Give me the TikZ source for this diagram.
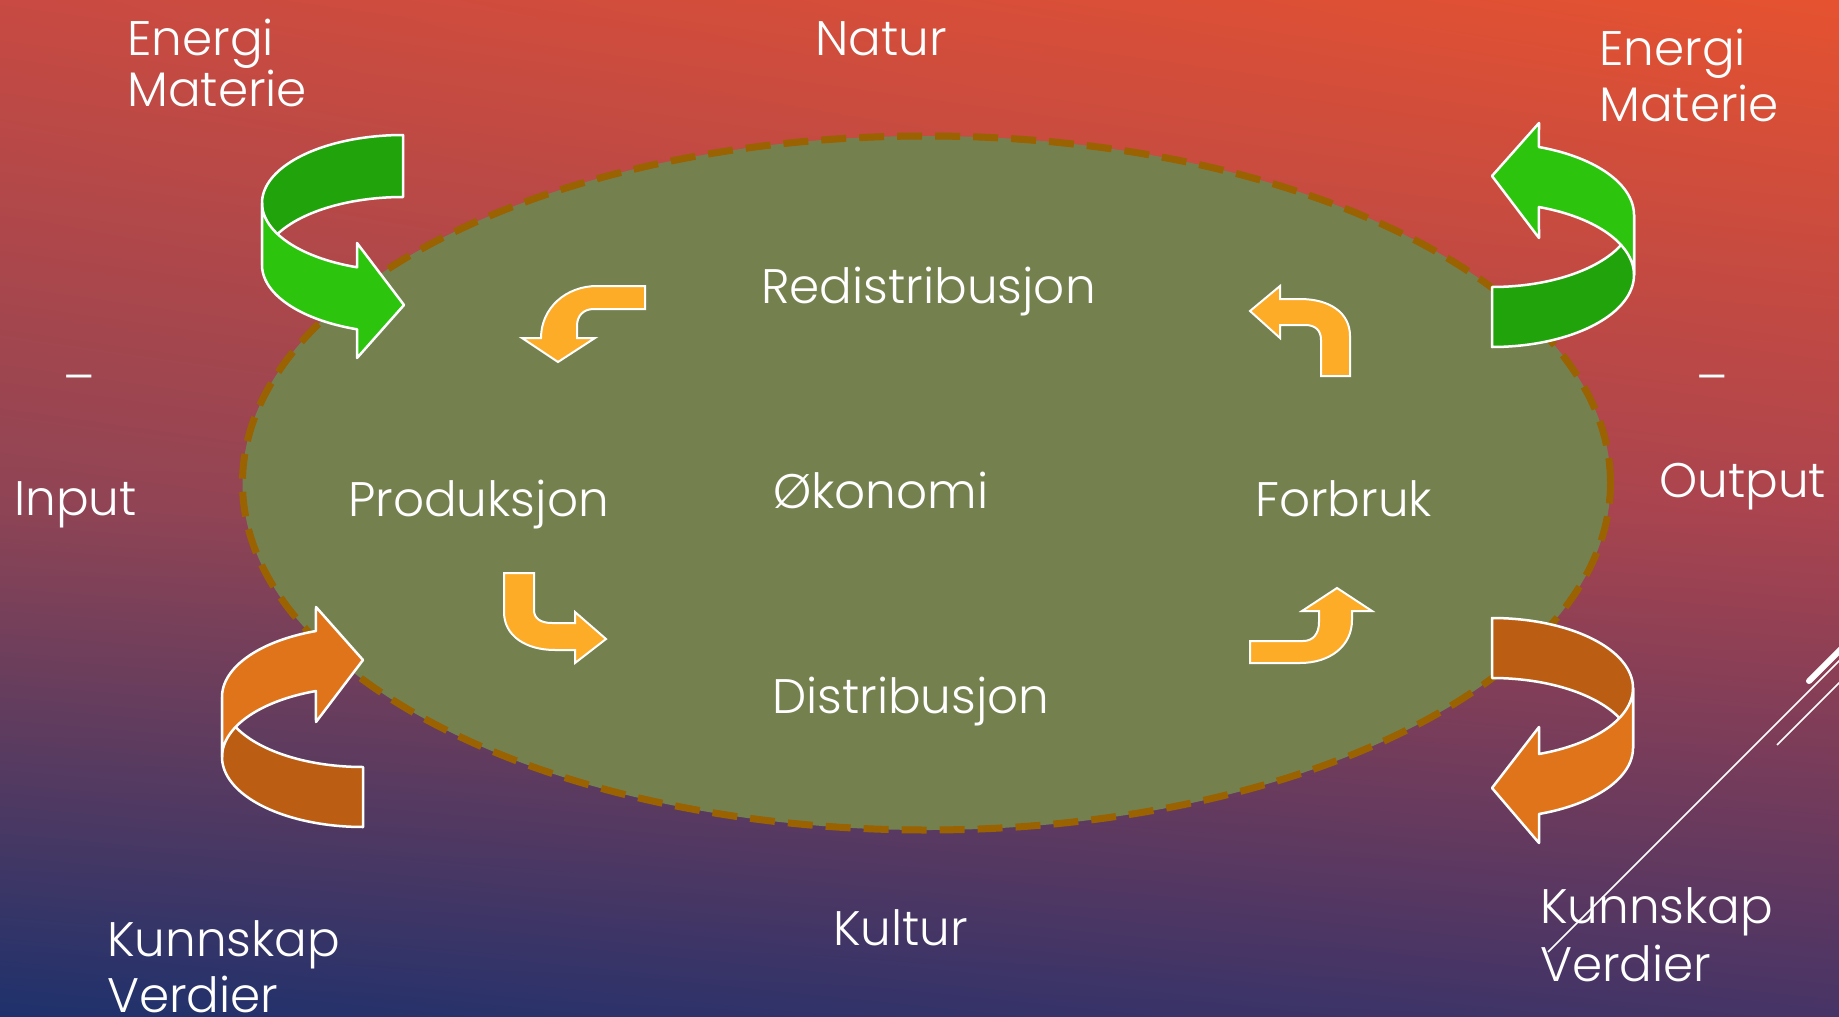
\documentclass[tikz,border=0pt]{standalone}
\usetikzlibrary{shadings,shapes.geometric}
\usepackage{fontspec}
\IfFontExistsTF{Poppins Light}{\setmainfont{Poppins Light}}{\setmainfont{Poppins}}
\definecolor{bgA}{RGB}{200,74,66}
\definecolor{bgB}{RGB}{229,82,48}
\definecolor{bgC}{RGB}{142,68,85}
\definecolor{bgD}{RGB}{172,68,78}
\definecolor{bgE}{RGB}{30,49,108}
\definecolor{bgF}{RGB}{70,52,102}
\definecolor{ellfill}{RGB}{116,129,79}
\definecolor{elldash}{RGB}{154,98,0}
\definecolor{gdark}{RGB}{33,163,11}
\definecolor{gbright}{RGB}{44,196,12}
\definecolor{odark}{RGB}{187,94,20}
\definecolor{obright}{RGB}{223,116,26}
\definecolor{sarr}{RGB}{253,172,40}
\begin{document}
\begin{tikzpicture}[x=1pt,y=-1pt,
  lbl/.style={text=white,font=\fontsize{48.5}{58}\selectfont,inner sep=0pt,anchor=base west},
  bigarr/.style={draw=white,line width=2.5pt,line join=round},
  smarr/.style={draw=white,line width=2pt,fill=sarr,line join=miter},
  deco/.style={draw=white,line width=1.5pt}]
\useasboundingbox (0,0) rectangle (1839,1017);
% background
\shade[upper left=bgA,upper right=bgB,lower left=bgC,lower right=bgD] (0,0) rectangle (1839,508.5);
\shade[upper left=bgC,upper right=bgD,lower left=bgE,lower right=bgF] (0,508) rectangle (1839,1017);
% ellipse
\node[draw=elldash,fill=ellfill,line width=7pt,dash pattern=on 25pt off 13pt,ellipse,minimum width=1368pt,minimum height=694pt,inner sep=0pt] (eco) at (926.5,483) {};
% small arrows
\filldraw[smarr] (645,286) -- (597,286) .. controls (566,286) and (541,308) .. (541,338) -- (522,338) -- (558,362) -- (595,338) -- (577,338) -- (577,326) .. controls (577,316) and (583,309) .. (594,309) -- (645,309) -- cycle;
\filldraw[smarr] (504,573) -- (534,573) -- (534,610) .. controls (534,618) and (540,623) .. (552,623) -- (575,623) -- (575,612) -- (606,639) -- (575,663) -- (575,650) -- (555,650) .. controls (526,650) and (504,636) .. (504,612) -- cycle;
\filldraw[smarr] (1250,641) -- (1303,641) .. controls (1313,641) and (1319,634) .. (1319,622) -- (1319,611) -- (1302,611) -- (1337,588) -- (1372,611) -- (1352,611) -- (1352,620) .. controls (1352,646) and (1330,663) .. (1300,663) -- (1250,663) -- cycle;
\filldraw[smarr] (1321,376) -- (1350,376) -- (1350,336) .. controls (1350,313) and (1330,299) .. (1300,299) -- (1280,299) -- (1280,286) -- (1250,311) -- (1280,338) -- (1280,325) -- (1305,325) .. controls (1315,325) and (1321,330) .. (1321,340) -- cycle;
% big arrows: top left (green)
\filldraw[bigarr,fill=gdark] plot[domain=270:180,samples=40] ({403+141*cos(\x)},{203+68*sin(\x)}) -- plot[domain=180:270,samples=40] ({403+141*cos(\x)},{265+68*sin(\x)}) -- cycle;
\filldraw[bigarr,fill=gbright] plot[domain=180:109,samples=40] ({403+141*cos(\x)},{203+68*sin(\x)}) -- (357,243) -- (404,305) -- (357,358) -- plot[domain=109:180,samples=40] ({403+141*cos(\x)},{265+68*sin(\x)}) -- cycle;
% top right (green)
\filldraw[bigarr,fill=gdark] plot[domain=90:0,samples=40] ({1492+142*cos(\x)},{215+72*sin(\x)}) -- plot[domain=0:90,samples=40] ({1492+142*cos(\x)},{275+72*sin(\x)}) -- cycle;
\filldraw[bigarr,fill=gbright] plot[domain=-70.7:0,samples=40] ({1492+142*cos(\x)},{215+72*sin(\x)}) -- plot[domain=0:-70.7,samples=40] ({1492+142*cos(\x)},{275+72*sin(\x)}) -- (1539,238) -- (1492,176) -- (1539,123) -- cycle;
% bottom left (orange)
\filldraw[bigarr,fill=odark] plot[domain=90:180,samples=40] ({363+141*cos(\x)},{697+70*sin(\x)}) -- plot[domain=180:90,samples=40] ({363+141*cos(\x)},{757+70*sin(\x)}) -- cycle;
\filldraw[bigarr,fill=obright] plot[domain=250.5:180,samples=40] ({363+141*cos(\x)},{697+70*sin(\x)}) -- plot[domain=180:250.5,samples=40] ({363+141*cos(\x)},{757+70*sin(\x)}) -- (316,722) -- (363,660) -- (316,607) -- cycle;
% bottom right (orange)
\filldraw[bigarr,fill=odark] plot[domain=270:360,samples=40] ({1492+141*cos(\x)},{688+70*sin(\x)}) -- plot[domain=360:270,samples=40] ({1492+141*cos(\x)},{748+70*sin(\x)}) -- cycle;
\filldraw[bigarr,fill=obright] plot[domain=0:70.5,samples=40] ({1492+141*cos(\x)},{688+70*sin(\x)}) -- (1539,727) -- (1492,788) -- (1539,843) -- plot[domain=70.5:0,samples=40] ({1492+141*cos(\x)},{748+70*sin(\x)}) -- cycle;
% labels
\node[lbl] (natur) at (815,55) {Natur};
\node[lbl] (en1) at (127,55) {Energi};
\node[lbl] (ma1) at (127,106) {Materie};
\node[lbl] (en2) at (1599,65) {Energi};
\node[lbl] (ma2) at (1599,121) {Materie};
\node[text=white,font=\fontsize{48.5}{58}\selectfont,inner sep=0pt,anchor=north] (dash1) at (79.5,374.5) {–};
\node[text=white,font=\fontsize{48.5}{58}\selectfont,inner sep=0pt,anchor=north] (dash2) at (1712,374.5) {–};
\node[lbl] (input) at (14,515) {Input};
\node[lbl] (output) at (1659,497) {Output};
\node[lbl] (prod) at (348,516) {Produksjon};
\node[lbl] (oko) at (773,508) {Økonomi};
\node[lbl] (forb) at (1255,516) {Forbruk};
\node[lbl] (redis) at (761,303) {Redistribusjon};
\node[lbl] (dist) at (772,713) {Distribusjon};
\node[lbl] (kult) at (833,945) {Kultur};
\node[lbl] (ku1) at (107,956) {Kunnskap};
\node[lbl] (ve1) at (107,1012) {Verdier};
\node[lbl] (ku2) at (1540,923) {Kunnskap};
\node[lbl] (ve2) at (1540,981) {Verdier};
% decorative lines
\draw[draw=white,line width=6pt,line cap=round] (1809,681) -- (1850,640);
\draw[deco] (1548,952) -- (1850,650);
\draw[deco] (1777,745) -- (1850,672);
\end{tikzpicture}
\end{document}
